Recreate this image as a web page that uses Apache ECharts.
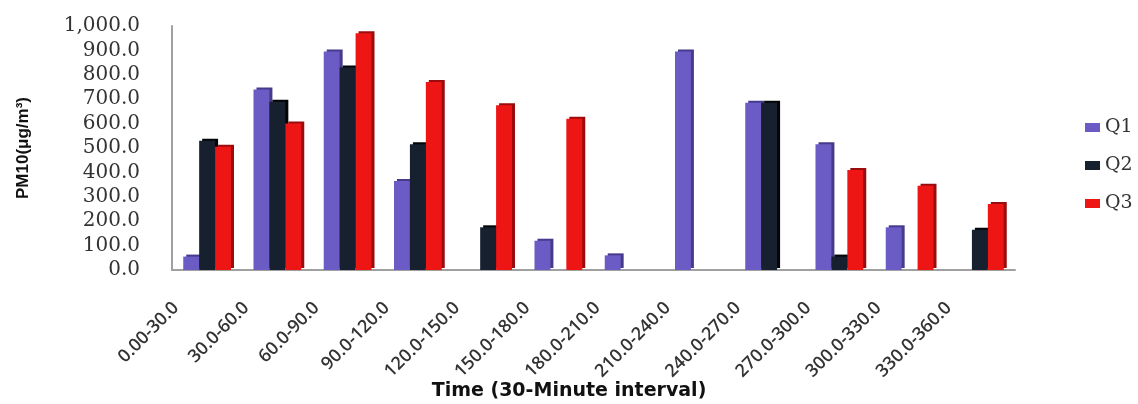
<!DOCTYPE html>
<html>
<head>
<meta charset="utf-8">
<script src="https://cdn.jsdelivr.net/npm/echarts@6/dist/echarts.min.js"></script>
<style>
  html, body { margin: 0; padding: 0; background: #fff; }
  #chart { width: 1138px; height: 404px; }
</style>
</head>
<body>
<div id="chart"></div>
<script>
// 30-minute intervals and PM10 concentrations per quarter
const categories = ['0.00-30.0', '30.0-60.0', '60.0-90.0', '90.0-120.0', '120.0-150.0', '150.0-180.0',
  '180.0-210.0', '210.0-240.0', '240.0-270.0', '270.0-300.0', '300.0-330.0', '330.0-360.0'];
const q1 = [55, 740, 895, 365, 0, 120, 60, 895, 685, 515, 175, 0];
const q2 = [530, 690, 830, 515, 175, 0, 0, 0, 685, 55, 0, 165];
const q3 = [505, 600, 970, 770, 675, 620, 0, 0, 0, 410, 345, 270];
const yTicks = [0, 100, 200, 300, 400, 500, 600, 700, 800, 900, 1000];
const xTitle = 'Time (30-Minute interval)';
const yTitle = 'PM10(μg/m³)';

const colors = ['#6a5cc4', '#16202e', '#ee1515'];
const sideColors = ['#463a8c', '#030507', '#9c0c0c'];

function fmt(v) {
  return v.toLocaleString('en-US', { minimumFractionDigits: 1, maximumFractionDigits: 1 });
}

function barSeries(name, data, i) {
  return {
    name: name,
    type: 'bar',
    data: data,
    barGap: '0%',
    barCategoryGap: '32%',
    itemStyle: {
      color: colors[i],
      shadowColor: sideColors[i],
      shadowOffsetX: 3,
      shadowOffsetY: -2,
      shadowBlur: 0
    }
  };
}

const chart = echarts.init(document.getElementById('chart'), null, { renderer: 'canvas' });
chart.setOption({
  animation: false,
  backgroundColor: '#ffffff',
  grid: { left: 172, right: 123, top: 26, bottom: 134, outerBoundsMode: 'none', containLabel: false },
  legend: {
    orient: 'vertical',
    left: 1080,
    top: 113,
    itemWidth: 15,
    itemHeight: 9,
    itemGap: 19,
    icon: 'rect',
    textStyle: { fontFamily: 'DejaVu Serif', fontSize: 19, color: '#333' },
    data: ['Q1', 'Q2', 'Q3']
  },
  graphic: [{
    type: 'text',
    left: 'center',
    x: -30,
    top: 382,
    style: {
      text: xTitle,
      fontFamily: 'DejaVu Sans',
      fontWeight: 'bold',
      fontSize: 19,
      fill: '#111'
    }
  }],
  xAxis: {
    type: 'category',
    data: categories,
    axisLine: { lineStyle: { color: '#a0a0a0', width: 2 } },
    axisTick: { show: false },
    axisLabel: {
      rotate: 45,
      interval: 0,
      margin: 4,
      padding: [0, 44, 0, 0],
      fontFamily: 'Open Sans',
      fontWeight: 600,
      fontSize: 18,
      color: '#333'
    }
  },
  yAxis: {
    type: 'value',
    min: 0,
    max: 1000,
    interval: 100,
    name: yTitle,
    nameLocation: 'middle',
    nameGap: 140,
    nameRotate: 90,
    nameTextStyle: { fontFamily: 'Liberation Sans', fontWeight: 'bold', fontSize: 17, color: '#111' },
    axisLine: { show: true, lineStyle: { color: '#a0a0a0', width: 2 } },
    axisTick: { show: false },
    splitLine: { show: false },
    axisLabel: {
      margin: 32,
      fontFamily: 'DejaVu Serif',
      fontSize: 20,
      color: '#333',
      customValues: yTicks,
      formatter: fmt
    }
  },
  series: [
    barSeries('Q1', q1, 0),
    barSeries('Q2', q2, 1),
    barSeries('Q3', q3, 2)
  ]
});
</script>
</body>
</html>
